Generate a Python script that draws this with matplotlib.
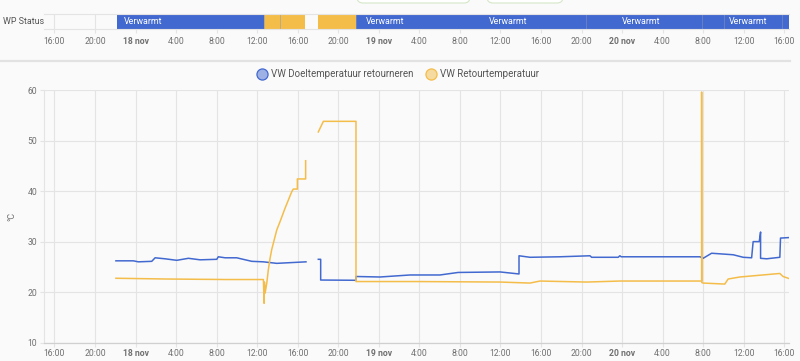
import numpy as np
import pandas as pd
import matplotlib
matplotlib.use('Agg')
import matplotlib.pyplot as plt
import matplotlib.dates as mdates
from matplotlib.lines import Line2D
from matplotlib.patches import FancyBboxPatch
from matplotlib.transforms import IdentityTransform

plt.rcParams['font.family'] = ['Roboto', 'DejaVu Sans']

BLUE = '#4269d0'
ORANGE = '#f4bd4a'
GRID = '#e4e4e4'
TXT = '#707070'

# --- data ---
doel_times = ['2023-11-17 22:04', '2023-11-17 23:47', '2023-11-18 00:17', '2023-11-18 01:36',
              '2023-11-18 01:56', '2023-11-18 02:55', '2023-11-18 04:04', '2023-11-18 05:13',
              '2023-11-18 06:22', '2023-11-18 08:01', '2023-11-18 08:10', '2023-11-18 08:50',
              '2023-11-18 09:59', '2023-11-18 11:28', '2023-11-18 12:37', '2023-11-18 13:56',
              '2023-11-18 16:49', '2023-11-18 17:30', '2023-11-18 18:02', '2023-11-18 18:16',
              '2023-11-18 18:16', '2023-11-18 21:45', '2023-11-18 21:45', '2023-11-19 00:07',
              '2023-11-19 03:05', '2023-11-19 06:02', '2023-11-19 07:50', '2023-11-19 11:58',
              '2023-11-19 13:50', '2023-11-19 13:50', '2023-11-19 14:55', '2023-11-19 17:52',
              '2023-11-19 20:50', '2023-11-19 21:00', '2023-11-19 23:37', '2023-11-19 23:47',
              '2023-11-19 23:55', '2023-11-20 07:41', '2023-11-20 08:00', '2023-11-20 08:50',
              '2023-11-20 10:58', '2023-11-20 11:57', '2023-11-20 12:47', '2023-11-20 12:56',
              '2023-11-20 13:32', '2023-11-20 13:40', '2023-11-20 13:40', '2023-11-20 14:16',
              '2023-11-20 15:34', '2023-11-20 15:38', '2023-11-20 16:28']
doel_values = [26.2, 26.2, 26.0, 26.1,
               26.8, 26.6, 26.3, 26.7,
               26.4, 26.5, 27.0, 26.8,
               26.8, 26.1, 26.0, 25.7,
               26.0, np.nan, 26.5, 26.5,
               22.4, 22.35, 23.1, 23.0,
               23.4, 23.4, 23.9, 24.0,
               23.6, 27.2, 26.9, 27.0,
               27.2, 26.9, 26.9, 27.2,
               27.0, 27.0, 26.7, 27.7,
               27.4, 26.9, 26.8, 30.0,
               30.0, 31.9, 26.7, 26.6,
               26.9, 30.7, 30.8]

retour_times = ['2023-11-17 22:04', '2023-11-18 03:05', '2023-11-18 09:00', '2023-11-18 12:37',
                '2023-11-18 12:41', '2023-11-18 12:43', '2023-11-18 12:47', '2023-11-18 12:57',
                '2023-11-18 13:06', '2023-11-18 13:16', '2023-11-18 13:26', '2023-11-18 13:56',
                '2023-11-18 14:16', '2023-11-18 14:45', '2023-11-18 15:25', '2023-11-18 15:34',
                '2023-11-18 15:58', '2023-11-18 15:58', '2023-11-18 16:47', '2023-11-18 16:47',
                '2023-11-18 17:30', '2023-11-18 18:02', '2023-11-18 18:32', '2023-11-18 21:45',
                '2023-11-18 21:45', '2023-11-19 03:44', '2023-11-19 11:58', '2023-11-19 14:55',
                '2023-11-19 15:54', '2023-11-19 20:30', '2023-11-19 23:47', '2023-11-20 07:51',
                '2023-11-20 07:51', '2023-11-20 07:52', '2023-11-20 08:00', '2023-11-20 10:08',
                '2023-11-20 10:28', '2023-11-20 11:37', '2023-11-20 15:34', '2023-11-20 15:53',
                '2023-11-20 16:28']
retour_values = [22.75, 22.6, 22.5, 22.5,
                 17.8, 22.0, 19.8, 21.8,
                 24.4, 26.6, 28.4, 32.3,
                 34.0, 36.6, 39.9, 40.4,
                 40.4, 42.4, 42.4, 46.0,
                 np.nan, 51.7, 53.8, 53.8,
                 22.1, 22.1, 22.0, 21.8,
                 22.2, 22.0, 22.2, 22.2,
                 59.6, 21.9, 21.8, 21.6,
                 22.6, 23.0, 23.7, 23.1,
                 22.7]

status_start = ['2023-11-17 22:13', '2023-11-18 12:41', '2023-11-18 14:16', '2023-11-18 18:02',
                '2023-11-18 21:45', '2023-11-19 20:26', '2023-11-20 07:51', '2023-11-20 10:04',
                '2023-11-20 15:44']
status_end = ['2023-11-18 12:41', '2023-11-18 14:16', '2023-11-18 16:43', '2023-11-18 21:45',
              '2023-11-19 20:26', '2023-11-20 07:51', '2023-11-20 10:04', '2023-11-20 15:44',
              '2023-11-20 16:29']
status_state = ['Verwarmt', 'Standby', 'Standby', 'Standby',
                'Verwarmt', 'Verwarmt', 'Verwarmt', 'Verwarmt', 'Verwarmt']
label_times = ['2023-11-17 22:53', '2023-11-18 22:44', '2023-11-19 10:52',
               '2023-11-19 23:59', '2023-11-20 10:32']

tick_labels = ['16:00', '20:00', '18 nov', '4:00', '8:00', '12:00', '16:00', '20:00', '19 nov',
               '4:00', '8:00', '12:00', '16:00', '20:00', '20 nov', '4:00', '8:00', '12:00', '16:00']
y_ticks = [10, 20, 30, 40, 50, 60]

state_colors = {'Verwarmt': BLUE, 'Standby': ORANGE}

doel = pd.Series(doel_values, index=pd.to_datetime(doel_times))
retour = pd.Series(retour_values, index=pd.to_datetime(retour_times))
ticks = pd.date_range('2023-11-17 16:00', periods=len(tick_labels), freq='4h')
xmin = pd.Timestamp('2023-11-17 15:00')
xmax = pd.Timestamp('2023-11-20 16:30')

fig = plt.figure(figsize=(8, 3.61), dpi=100, facecolor='#fafafa')

def style_xaxis(ax, pad):
    ax.set_xlim(xmin, xmax)
    ax.set_xticks(ticks)
    ax.set_xticklabels(tick_labels)
    for lab in ax.get_xticklabels():
        if 'nov' in lab.get_text():
            lab.set_fontweight('bold')
            lab.set_color('#555555')
    ax.tick_params(axis='x', length=3, width=0.8, color=GRID, labelsize=6.2, labelcolor=TXT, pad=pad)

# status timeline
ax_s = fig.add_axes([44.3 / 800, 1 - 29.3 / 361, 745 / 800, 15 / 361])
ax_s.set_facecolor('#fafafa')
ax_s.grid(axis='x', color=GRID, lw=0.8)
ax_s.set_axisbelow(True)
for s, e, st in zip(status_start, status_end, status_state):
    s, e = pd.Timestamp(s), pd.Timestamp(e)
    ax_s.barh(0.5, e - s, left=s, height=1.0, color=state_colors[st], edgecolor='none')
# thin dividers only where two segments touch
for prev_end, s in zip(status_end[:-1], status_start[1:]):
    if prev_end == s:
        ax_s.axvline(pd.Timestamp(s), color='#8a96b8', lw=0.6, alpha=0.6)
for t in label_times:
    ax_s.text(pd.Timestamp(t), 0.5, 'Verwarmt', color='white', fontsize=6.4, va='center', ha='left')
ax_s.set_ylim(0, 1)
ax_s.set_yticks([])
style_xaxis(ax_s, 2.5)
for side in ['left', 'right']:
    ax_s.spines[side].set_visible(False)
for side in ['top', 'bottom']:
    ax_s.spines[side].set_color(GRID)
    ax_s.spines[side].set_linewidth(0.8)
fig.text(3 / 800, 1 - 21.5 / 361, 'WP Status', fontsize=6.4, color='#555555', va='center', ha='left')

# separator between the cards
fig.add_artist(Line2D([0, 790 / 800], [1 - 60.5 / 361] * 2, color='#e2e2e2', lw=1.6))

# cropped chips at the very top
for x0, w in [(357, 113), (487, 76)]:
    fig.patches.append(FancyBboxPatch((x0, 361 - 3), w, 14, boxstyle='round,pad=0,rounding_size=6',
                                      transform=IdentityTransform(), facecolor='white',
                                      edgecolor='#d5e7c8', lw=0.8))

# main chart
ax = fig.add_axes([44.3 / 800, 1 - 342.7 / 361, 745 / 800, 252.7 / 361])
ax.set_facecolor('#fafafa')
ax.plot(doel.index, doel.values, color=BLUE, lw=1.1, label='VW Doeltemperatuur retourneren')
ax.plot(retour.index, retour.values, color=ORANGE, lw=1.1, label='VW Retourtemperatuur')
ax.set_ylim(10, 60)
ax.set_yticks(y_ticks)
ax.grid(True, color=GRID, lw=0.8)
ax.set_axisbelow(True)
style_xaxis(ax, 1.5)
ax.tick_params(axis='y', length=3, width=0.8, color=GRID, labelsize=6.2, labelcolor=TXT, pad=2)
ax.set_ylabel('°C', fontsize=6.4, color=TXT, labelpad=8)
for side in ['top', 'right']:
    ax.spines[side].set_visible(False)
ax.spines['left'].set_color(GRID)
ax.spines['left'].set_linewidth(0.8)
ax.spines['bottom'].set_color('#d0d0d0')
ax.spines['bottom'].set_linewidth(0.9)

handles = [Line2D([], [], ls='none', marker='o', markersize=8, markerfacecolor=c + '80',
                  markeredgecolor=c, markeredgewidth=0.9) for c in (BLUE, ORANGE)]
fig.legend(handles, ['VW Doeltemperatuur retourneren', 'VW Retourtemperatuur'],
           loc='center', bbox_to_anchor=(398 / 800, 1 - 74.3 / 361), ncol=2, frameon=False,
           fontsize=7, labelcolor='#555555', handletextpad=0.4, columnspacing=1.4, handlelength=1.0)

fig.savefig('out.png', dpi=100, facecolor=fig.get_facecolor())
